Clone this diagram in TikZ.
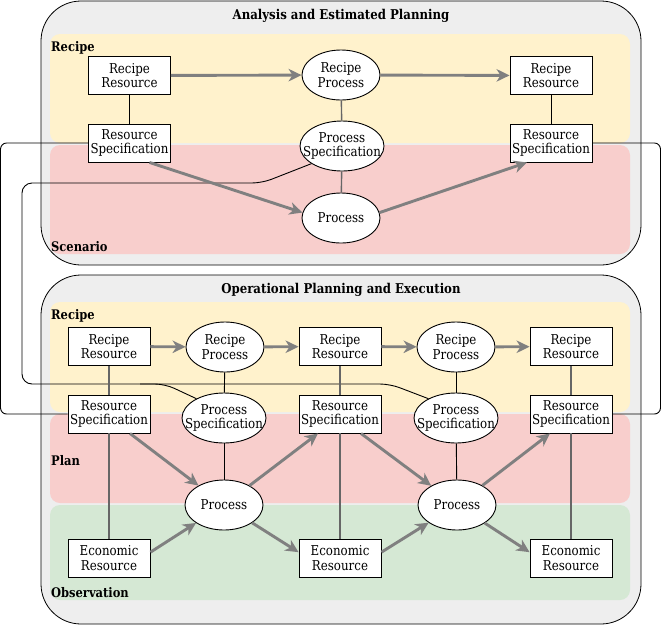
\documentclass[tikz,border=0pt]{standalone}
\usepackage{fontspec}
\setmainfont{DejaVu Serif}[FakeStretch=0.87]
\usetikzlibrary{arrows.meta,calc,shapes.geometric}
\definecolor{cont}{HTML}{EEEEEE}
\definecolor{ylw}{HTML}{FFF2CC}
\definecolor{rband}{HTML}{F8CECC}
\definecolor{gband}{HTML}{D5E8D4}
\definecolor{arr}{HTML}{808080}
\begin{document}
\begin{tikzpicture}[x=1pt,y=-1pt,
  txt/.style={font=\fontsize{13.6}{14.2}\selectfont},
  box/.style={txt, draw, fill=white, line width=0.9pt, minimum width=82pt, minimum height=38pt, inner sep=0pt, align=center},
  ell/.style={txt, ellipse, draw, fill=white, line width=0.9pt, minimum width=78pt, minimum height=50pt, inner xsep=-20pt, inner ysep=0pt, align=center},
  spec/.style={ell, minimum width=84pt},
  flow/.style={draw=arr, line width=2.9pt, -{Stealth[length=13pt,width=12.5pt,inset=4pt]}},
  link/.style={draw=black, line width=0.9pt},
  linkg/.style={draw=black!60, line width=1.4pt},
  wire/.style={draw=black, line width=0.9pt, rounded corners=6pt},
  container/.style={draw=black, fill=cont, line width=0.8pt, rounded corners=40pt},
  title/.style={font=\bfseries\fontsize{13.5}{14}\selectfont},
  band/.style={font=\bfseries\fontsize{13.2}{14}\selectfont, anchor=west, inner sep=0pt}
]
\useasboundingbox (0,0) rectangle (662,625);
% containers
\draw[container] (41,1) rectangle (641,265);
\draw[container] (41,275) rectangle (641,624);
\fill[ylw, rounded corners=10pt] (50,34) rectangle (630,143);
\fill[rband, rounded corners=10pt] (50,145) rectangle (630,254);
\fill[ylw, rounded corners=10pt] (50,302) rectangle (630,412);
\fill[rband, rounded corners=10pt] (50,414) rectangle (630,503);
\fill[gband, rounded corners=10pt] (50,505) rectangle (630,600);
\node[title] (t1) at (341,16) {Analysis and Estimated Planning};
\node[title] (t2) at (341,290) {Operational Planning and Execution};
\node[band] (lb1) at (51,48) {Recipe};
\node[band] (lb2) at (51,247) {Scenario};
\node[band] (lb3) at (51,316) {Recipe};
\node[band] (lb4) at (51,461) {Plan};
\node[band] (lb5) at (51,593) {Observation};
% top nodes
\node[box] (rrA) at (129.5,75.5) {Recipe\\Resource};
\node[ell] (rpA) at (341,75) {Recipe\\Process};
\node[box] (rrB) at (551,75.5) {Recipe\\Resource};
\node[box] (rsA) at (129.5,143) {Resource\\Specification};
\node[spec] (psA) at (342,146) {Process\\Specification};
\node[box] (rsB) at (551,143) {Resource\\Specification};
\node[ell] (pA) at (341,218) {Process};
% lower nodes
\node[box] (rr1) at (109,346.5) {Recipe\\Resource};
\node[ell] (rp1) at (225,347) {Recipe\\Process};
\node[box] (rr2) at (340,346.5) {Recipe\\Resource};
\node[ell] (rp2) at (456,347) {Recipe\\Process};
\node[box] (rr3) at (571,346.5) {Recipe\\Resource};
\node[box] (rs1) at (109,414) {Resource\\Specification};
\node[spec] (ps1) at (224,418) {Process\\Specification};
\node[box] (rs2) at (340,414) {Resource\\Specification};
\node[spec] (ps2) at (456,418) {Process\\Specification};
\node[box] (rs3) at (571,414) {Resource\\Specification};
\node[ell] (p1) at (224,505) {Process};
\node[ell] (p2) at (457,505) {Process};
\node[box] (er1) at (109,558) {Economic\\Resource};
\node[box] (er2) at (340,558) {Economic\\Resource};
\node[box] (er3) at (571,558) {Economic\\Resource};
% long wires
\coordinate (jA) at (262,183);
\coordinate (jB) at (22,183);
\coordinate (jC) at (22,384);
\coordinate (jD) at (390,384);
\coordinate (jE) at (165,384);
\coordinate (jF) at (140,384);
\draw[wire] (rsA.west) -- ++(-87.5,0) |- (rs1.west);
\draw[wire] (rsB.east) -- ++(68,0) |- (rs3.east);
\draw[wire, rounded corners=10pt] (psA.210) -- (jA) -- (jB) -- (jC) -- (jD) -- (ps2.145);
\draw[wire, rounded corners=10pt] (jF) -- (jE) -- (ps1.145);
% plain links
\draw[link] (rrA) -- (rsA);
\draw[linkg] (rpA) -- (psA);
\draw[linkg] (psA) -- (pA);
\draw[link] (rrB) -- (rsB);
\draw[linkg] (rr1) -- (rs1);
\draw[linkg] (rs1) -- (er1);
\draw[link] (rp1) -- (ps1);
\draw[link] (ps1) -- (p1);
\draw[linkg] (rr2) -- (rs2);
\draw[linkg] (rs2) -- (er2);
\draw[link] (rp2) -- (ps2);
\draw[link] (ps2) -- (p2);
\draw[linkg] (rr3) -- (rs3);
\draw[linkg] (rs3) -- (er3);
% flows top
\draw[flow] (rrA) -- (rpA);
\draw[flow] (rpA) -- (rrB);
\draw[flow] ($(rsA.south)+(20,0)$) -- (pA.172);
\draw[flow] (pA.8) -- ($(rsB.south)+(-24,0)$);
% flows lower
\draw[flow] (rr1) -- (rp1);
\draw[flow] (rp1) -- (rr2);
\draw[flow] (rr2) -- (rp2);
\draw[flow] (rp2) -- (rr3);
\draw[flow] ($(rs1.south)+(21,0)$) -- (p1);
\draw[flow] (p1) -- ($(rs2.south)+(-22,0)$);
\draw[flow] ($(rs2.south)+(21,0)$) -- (p2);
\draw[flow] (p2) -- ($(rs3.south)+(-21,0)$);
\draw[flow] (er1.8) -- (p1);
\draw[flow] (p1) -- (er2.172);
\draw[flow] (er2.8) -- (p2);
\draw[flow] (p2) -- (er3.172);
\end{tikzpicture}
\end{document}
